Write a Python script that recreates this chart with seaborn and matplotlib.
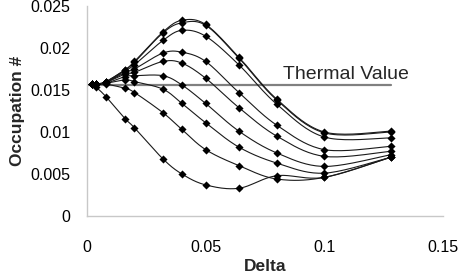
import numpy as np
import pandas as pd
import matplotlib
matplotlib.use("Agg")
import matplotlib.pyplot as plt
import seaborn as sns

# ---------------------------------------------------------------
# Data
# ---------------------------------------------------------------
delta = [0.002, 0.004, 0.008, 0.016, 0.020, 0.032, 0.040, 0.050, 0.064, 0.080, 0.100, 0.128]

curve_a = [0.0157, 0.0157, 0.0160, 0.0174, 0.0184, 0.0219, 0.0233, 0.0228, 0.0189, 0.0139, 0.0100, 0.0101]
curve_b = [0.0157, 0.0157, 0.0160, 0.0174, 0.0183, 0.0218, 0.0230, 0.0227, 0.0188, 0.0138, 0.0099, 0.0100]
curve_c = [0.0157, 0.0157, 0.0159, 0.0173, 0.0180, 0.0209, 0.0221, 0.0214, 0.0180, 0.0133, 0.0094, 0.0093]
curve_d = [0.0157, 0.0157, 0.0159, 0.0171, 0.0175, 0.0194, 0.0195, 0.0184, 0.0147, 0.0108, 0.0079, 0.0083]
curve_e = [0.0157, 0.0157, 0.0159, 0.0169, 0.0171, 0.0184, 0.0182, 0.0164, 0.0129, 0.0095, 0.0071, 0.0077]
curve_f = [0.0157, 0.0157, 0.0158, 0.0166, 0.0167, 0.0167, 0.0156, 0.0134, 0.0101, 0.0075, 0.0059, 0.0073]
curve_g = [0.0157, 0.0157, 0.0158, 0.0162, 0.0160, 0.0151, 0.0134, 0.0111, 0.0082, 0.0063, 0.0051, 0.0070]
curve_h = [0.0157, 0.0157, 0.0157, 0.0152, 0.0147, 0.0123, 0.0103, 0.0079, 0.0060, 0.0044, 0.0046, 0.0070]
curve_i = [0.0157, 0.0153, 0.0142, 0.0116, 0.0105, 0.0068, 0.0050, 0.0037, 0.0033, 0.0048, 0.0046, 0.0070]

curves = [curve_a, curve_b, curve_c, curve_d, curve_e, curve_f, curve_g, curve_h, curve_i]

thermal_value = 0.0156
thermal_x = [0.0, 0.128]

x_ticks = [0, 0.05, 0.1, 0.15]
x_tick_labels = ["0", "0.05", "0.1", "0.15"]
y_ticks = [0, 0.005, 0.01, 0.015, 0.02, 0.025]
y_tick_labels = ["0", "0.005", "0.01", "0.015", "0.02", "0.025"]


# ---------------------------------------------------------------
# Smoothed line (spreadsheet style), done in screen-like units
# ---------------------------------------------------------------
def smooth(xs, ys, n=20, sx=356 / 0.15, sy=210 / 0.025):
    p = np.column_stack([np.asarray(xs) * sx, np.asarray(ys) * sy])
    p = np.vstack([p[0], p, p[-1]])
    out = []
    for k in range(1, len(p) - 2):
        p0, p1, p2, p3 = p[k - 1], p[k], p[k + 1], p[k + 2]
        for t in np.linspace(0, 1, n, endpoint=False):
            t2, t3 = t * t, t * t * t
            pt = 0.5 * ((2 * p1) + (-p0 + p2) * t
                        + (2 * p0 - 5 * p1 + 4 * p2 - p3) * t2
                        + (-p0 + 3 * p1 - 3 * p2 + p3) * t3)
            out.append(pt)
    out.append(p[-2])
    out = np.array(out)
    return out[:, 0] / sx, out[:, 1] / sy


rows = []
for idx, ys in enumerate(curves):
    sx_, sy_ = smooth(delta, ys)
    for a, b in zip(sx_, sy_):
        rows.append({"curve": idx, "delta": a, "occ": b})
smooth_df = pd.DataFrame(rows)

points_df = pd.DataFrame(
    [{"curve": idx, "delta": d, "occ": v}
     for idx, ys in enumerate(curves) for d, v in zip(delta, ys)]
)

# ---------------------------------------------------------------
# Figure
# ---------------------------------------------------------------
sns.set_style("white")
plt.rcParams["font.family"] = ["Liberation Sans", "DejaVu Sans"]

fig = plt.figure(figsize=(4.6, 2.73), dpi=100)
ax = fig.add_axes([87 / 460, 57 / 273, 356 / 460, 210 / 273])

ax.plot(thermal_x, [thermal_value, thermal_value], color="#808080", lw=1.6, zorder=1)

sns.lineplot(data=smooth_df, x="delta", y="occ", units="curve", estimator=None,
             color="#1a1a1a", lw=0.8, sort=False, ax=ax, zorder=2)
sns.scatterplot(data=points_df, x="delta", y="occ", marker="D", color="black",
                s=17, linewidth=0, ax=ax, zorder=3)

ax.text(0.0825, 0.0168, "Thermal Value", fontsize=14, va="center", ha="left")

ax.set_xlim(0, 0.15)
ax.set_ylim(0, 0.025)
ax.set_xticks(x_ticks)
ax.set_xticklabels(x_tick_labels)
ax.set_yticks(y_ticks)
ax.set_yticklabels(y_tick_labels)

ax.set_xlabel("Delta", fontsize=12.5, fontweight="bold", labelpad=3)
ax.set_ylabel("Occupation #", fontsize=12.5, fontweight="bold", labelpad=4)

for side in ["top", "right"]:
    ax.spines[side].set_visible(False)
for side in ["left", "bottom"]:
    ax.spines[side].set_color("#c8c8c8")
    ax.spines[side].set_linewidth(1)

ax.tick_params(axis="both", direction="out", length=4, width=1, color="#c8c8c8",
               labelsize=11.5, pad=8, labelcolor="black")
ax.tick_params(axis="x", pad=13)

fig.savefig("out.png", dpi=100)
